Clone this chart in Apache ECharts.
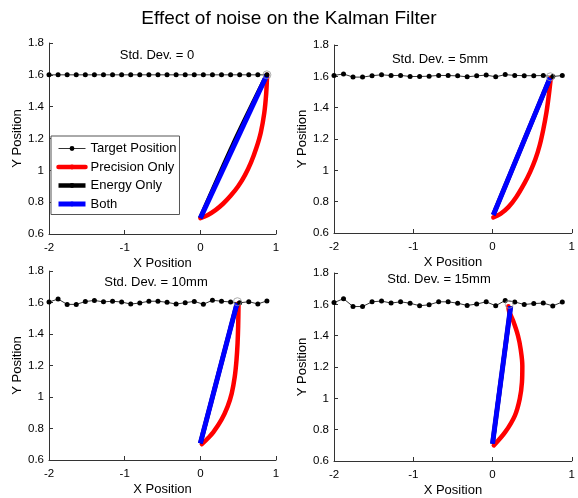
<!DOCTYPE html>
<html><head><meta charset="utf-8">
<script src="https://cdn.jsdelivr.net/npm/echarts@6/dist/echarts.min.js"></script>
<style>html,body{margin:0;padding:0;background:#fff}#c{width:578px;height:498px}</style>
</head><body><div id="c"></div>
<script>
// ---- data ----
const mainTitle = 'Effect of noise on the Kalman Filter';
const panelTitles = ['Std. Dev. = 0', 'Std. Dev. = 5mm', 'Std. Dev. = 10mm', 'Std. Dev. = 15mm'];
const seriesNames = ['Target Position', 'Precision Only', 'Energy Only', 'Both'];
const xTicks = [-2, -1, 0, 1];
const yTicks = [0.6, 0.8, 1, 1.2, 1.4, 1.6, 1.8];

const targetX = [-2, -1.88, -1.76, -1.64, -1.52, -1.4, -1.28, -1.16, -1.04, -0.92, -0.8, -0.68, -0.56, -0.44, -0.32, -0.2, -0.08, 0.04, 0.16, 0.28, 0.4, 0.52, 0.64, 0.76, 0.88];
const target0Y = [1.6, 1.6, 1.6, 1.6, 1.6, 1.6, 1.6, 1.6, 1.6, 1.6, 1.6, 1.6, 1.6, 1.6, 1.6, 1.6, 1.6, 1.6, 1.6, 1.6, 1.6, 1.6, 1.6, 1.6, 1.6];
const target5Y = [1.606, 1.615, 1.595, 1.595, 1.604, 1.61, 1.605, 1.606, 1.599, 1.599, 1.601, 1.606, 1.605, 1.603, 1.597, 1.603, 1.608, 1.597, 1.611, 1.606, 1.604, 1.604, 1.605, 1.599, 1.605];
const target10Y = [1.603, 1.622, 1.588, 1.588, 1.606, 1.613, 1.604, 1.608, 1.603, 1.590, 1.597, 1.608, 1.608, 1.601, 1.590, 1.599, 1.607, 1.589, 1.614, 1.608, 1.603, 1.598, 1.605, 1.591, 1.610];
const target15Y = [1.611, 1.636, 1.586, 1.586, 1.616, 1.621, 1.608, 1.616, 1.607, 1.591, 1.597, 1.616, 1.616, 1.607, 1.593, 1.602, 1.616, 1.591, 1.625, 1.615, 1.599, 1.605, 1.608, 1.590, 1.615];

const prec0X = [0, 0.1, 0.2, 0.3, 0.4, 0.5, 0.59, 0.67, 0.74, 0.8, 0.845, 0.87, 0.882];
const prec0Y = [0.7, 0.72, 0.75, 0.79, 0.84, 0.9, 0.97, 1.05, 1.14, 1.24, 1.36, 1.48, 1.6];
const energy0X = [0, 0.43, 0.88];
const energy0Y = [0.7, 1.16, 1.6];
const both0X = [0, 0.88];
const both0Y = [0.7, 1.6];

const prec5X = [0.01, 0.1, 0.2, 0.3, 0.4, 0.475, 0.54, 0.595, 0.64, 0.68, 0.71, 0.735];
const prec5Y = [0.7, 0.722, 0.765, 0.83, 0.915, 0.99, 1.07, 1.16, 1.26, 1.37, 1.48, 1.59];
const energy5X = [0.01, 0.725];
const energy5Y = [0.715, 1.59];
const both5X = [0.01, 0.725];
const both5Y = [0.715, 1.59];

const prec10X = [0.02, 0.1, 0.17, 0.28, 0.36, 0.415, 0.455, 0.478, 0.492, 0.5, 0.505];
const prec10Y = [0.7, 0.738, 0.775, 0.856, 0.939, 1.023, 1.129, 1.235, 1.341, 1.45, 1.595];
const energy10X = [0, 0.485];
const energy10Y = [0.706, 1.595];
const both10X = [0, 0.485];
const both10Y = [0.706, 1.595];

const prec15X = [0.016, 0.159, 0.282, 0.343, 0.371, 0.376, 0.355, 0.322, 0.261, 0.208, 0.2];
const prec15Y = [0.7, 0.784, 0.89, 0.996, 1.102, 1.207, 1.313, 1.398, 1.493, 1.557, 1.588];
const energy15X = [0, 0.229];
const energy15Y = [0.71, 1.588];
const both15X = [0, 0.229];
const both15Y = [0.71, 1.588];

const finalX = [0.88, 0.73, 0.49, 0.21];
const finalY = [1.6, 1.597, 1.605, 1.6];

// ---- build ----
const FONT = '"Liberation Sans", Arial, Helvetica, sans-serif';
const pairs = (xs, ys) => xs.map((x, i) => [x, ys[i]]);
const panels = [
  {t: [targetX, target0Y], p: [prec0X, prec0Y], e: [energy0X, energy0Y], b: [both0X, both0Y]},
  {t: [targetX, target5Y], p: [prec5X, prec5Y], e: [energy5X, energy5Y], b: [both5X, both5Y]},
  {t: [targetX, target10Y], p: [prec10X, prec10Y], e: [energy10X, energy10Y], b: [both10X, both10Y]},
  {t: [targetX, target15Y], p: [prec15X, prec15Y], e: [energy15X, energy15Y], b: [both15X, both15Y]}
];
const grids = [
  {left: 49, top: 43, width: 227, height: 191},
  {left: 334, top: 45, width: 242, height: 188},
  {left: 49, top: 271, width: 227, height: 189},
  {left: 334, top: 273, width: 244, height: 189}
];
const titlePos = [[157, 55], [440, 59], [156, 282], [439, 279]];

const axisCol = '#333';
const xAxes = [], yAxes = [], series = [];
grids.forEach((g, i) => {
  xAxes.push({
    type: 'value', gridIndex: i, min: xTicks[0], max: xTicks[xTicks.length - 1], interval: 1,
    name: 'X Position', nameLocation: 'middle', nameGap: 23,
    nameTextStyle: {fontFamily: FONT, fontSize: 13, color: '#000'},
    axisLine: {show: true, onZero: false, lineStyle: {color: axisCol, width: 1}},
    axisTick: {show: true, inside: true, length: 4, lineStyle: {color: axisCol}},
    axisLabel: {fontFamily: FONT, fontSize: 11.5, color: '#000', margin: 8, showMinLabel: true, showMaxLabel: true},
    splitLine: {show: false}
  });
  yAxes.push({
    type: 'value', gridIndex: i, min: yTicks[0], max: yTicks[yTicks.length - 1], interval: 0.2,
    name: 'Y Position', nameLocation: 'middle', nameGap: 23, nameRotate: 90,
    nameTextStyle: {fontFamily: FONT, fontSize: 13, color: '#000'},
    axisLine: {show: true, onZero: false, lineStyle: {color: axisCol, width: 1}},
    axisTick: {show: true, inside: true, length: 4, lineStyle: {color: axisCol}},
    axisLabel: {fontFamily: FONT, fontSize: 11.5, color: '#000', margin: 5,
      formatter: v => String(+v.toFixed(1))},
    splitLine: {show: false}
  });
  const P = panels[i];
  series.push({
    name: seriesNames[0], type: 'line', xAxisIndex: i, yAxisIndex: i,
    data: pairs(P.t[0], P.t[1]), symbol: 'circle', symbolSize: 5, showSymbol: true,
    lineStyle: {color: '#333', width: 1}, itemStyle: {color: '#000'}, clip: false, animation: false
  });
  series.push({
    name: seriesNames[1], type: 'line', xAxisIndex: i, yAxisIndex: i,
    data: pairs(P.p[0], P.p[1]), symbol: 'none', smooth: 0.35,
    lineStyle: {color: '#ff0000', width: 4.5, cap: 'round', join: 'round'}, itemStyle: {color: '#ff0000'}, animation: false
  });
  series.push({
    name: seriesNames[2], type: 'line', xAxisIndex: i, yAxisIndex: i,
    data: pairs(P.e[0], P.e[1]), symbol: 'none', smooth: 0.3,
    lineStyle: {color: '#000000', width: 4.5}, itemStyle: {color: '#000'}, animation: false
  });
  series.push({
    name: seriesNames[3], type: 'line', xAxisIndex: i, yAxisIndex: i,
    data: pairs(P.b[0], P.b[1]), symbol: 'none',
    lineStyle: {color: '#0000ff', width: 5}, itemStyle: {color: '#0000ff'}, animation: false
  });
  series.push({
    name: 'Final Target', type: 'scatter', xAxisIndex: i, yAxisIndex: i,
    data: [[finalX[i], finalY[i]]], symbol: 'circle', symbolSize: 8,
    itemStyle: {color: 'rgba(0,0,0,0)', borderColor: '#999', borderWidth: 1}, animation: false, z: 5
  });
});

const graphics = [{
  type: 'text', x: 289, y: 19,
  style: {text: mainTitle, fontFamily: FONT, fontSize: 19, fill: '#000', align: 'center', verticalAlign: 'middle'}
}];
titlePos.forEach((p, i) => graphics.push({
  type: 'text', x: p[0], y: p[1],
  style: {text: panelTitles[i], fontFamily: FONT, fontSize: 13, fill: '#000', align: 'center', verticalAlign: 'middle'}
}));

const chart = echarts.init(document.getElementById('c'), null, {renderer: 'canvas'});
chart.setOption({
  animation: false,
  backgroundColor: '#fff',
  textStyle: {fontFamily: FONT},
  grid: grids.map(g => Object.assign({containLabel: false, show: false}, g)),
  xAxis: xAxes, yAxis: yAxes, series: series,
  legend: {
    data: seriesNames, orient: 'vertical', left: 51, top: 136,
    itemWidth: 27, itemHeight: 6, itemGap: 5.5,
    padding: [6, 3, 4, 5],
    borderColor: '#555', borderWidth: 1, backgroundColor: '#fff',
    textStyle: {fontFamily: FONT, fontSize: 13, color: '#000'},
    lineStyle: {width: 'inherit'},
    selectedMode: false
  },
  graphic: graphics
});
</script></body></html>
